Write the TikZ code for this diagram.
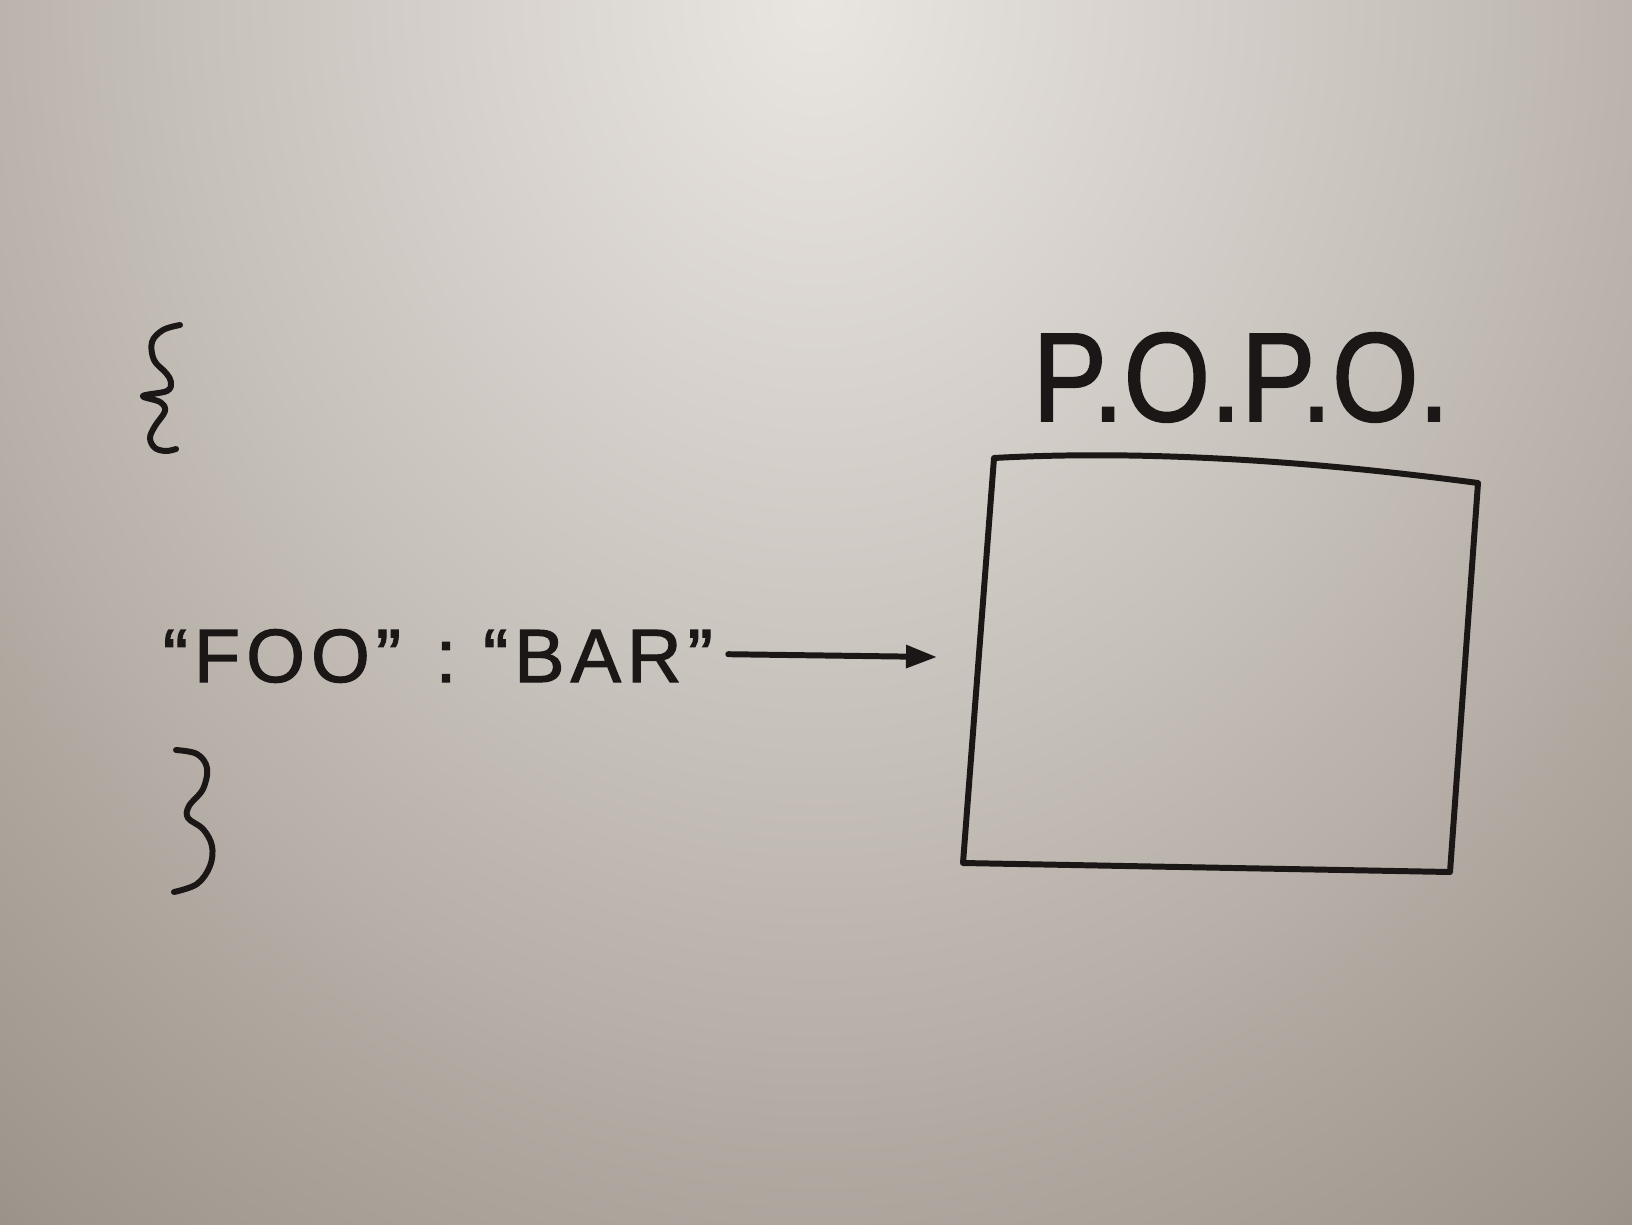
\documentclass[tikz,border=0pt]{standalone}
\usepackage{fontspec}
\usetikzlibrary{arrows.meta}
\newfontfamily\handfont[LetterSpace=8,FakeBold=1.5]{Liberation Sans}
\newfontfamily\titlefont[FakeBold=1.5]{Liberation Sans}
\definecolor{ink}{RGB}{26,23,22}
\definecolor{bgA}{RGB}{233,229,225}
\definecolor{bgB}{RGB}{216,211,206}
\definecolor{bgC}{RGB}{198,192,186}
\definecolor{bgD}{RGB}{178,170,162}
\definecolor{bgE}{RGB}{158,149,140}
\definecolor{bgF}{RGB}{128,119,111}
\pgfdeclareradialshading{board}{\pgfpoint{0bp}{0bp}}{%
  color(0bp)=(bgA); color(5bp)=(bgB); color(10bp)=(bgC); color(15bp)=(bgD);
  color(20bp)=(bgE); color(25bp)=(bgF); color(50bp)=(bgF)}
\tikzset{
  inkline/.style={draw=ink, line width=3.4pt, line cap=round, line join=round},
  arr/.style={inkline, -{Triangle[length=0.62cm,width=0.44cm]}},
  handtext/.style={text=ink, inner sep=0pt, anchor=base, font=\handfont\fontsize{43}{43}\selectfont},
}
\begin{document}
\begin{tikzpicture}[x=0.02cm,y=-0.02cm]
\useasboundingbox (0,0) rectangle (1632,1224);
% background
\begin{scope}
\clip (0,0) rectangle (1632,1224);
\shade[shading=board] (-784,-1900) rectangle (2416,1900);
\end{scope}

% opening brace
\draw[inkline] plot[smooth, tension=0.6] coordinates {(180,325) (163,330) (152,342) (154,360) (166,373) (171,382) (167,391) (143,396) (160,402) (165,411) (155,426) (150,438) (155,448) (166,451) (176,449)};
% closing brace
\draw[inkline] plot[smooth, tension=0.6] coordinates {(176,750) (197,754) (207,768) (203,789) (189,806) (188,818) (203,829) (212,846) (210,866) (197,884) (174,892)};

% text
\node[handtext] (foo) at (282,682) {“FOO”};
\node[handtext] (colon) at (446,682) {:};
\node[handtext] (bar) at (598,682) {“BAR”};

% box
\coordinate (tl) at (994,458);
\coordinate (tr) at (1478,483);
\coordinate (br) at (1450,872);
\coordinate (bl) at (963,863);
\draw[inkline] (tl) .. controls (1100,452) and (1260,454) .. (tr) -- (br) -- (bl) -- cycle;
\coordinate (tip) at (937,657);

% arrow
\draw[arr, shorten <=0.3cm] (bar.east |- 0,654) -- (tip);

% label
\node[text=ink, inner sep=0pt, anchor=base, font=\titlefont\fontsize{72}{72}\selectfont] (popo) at (1241,421) {\scalebox{0.88}[1]{P.O.P.O.}};
\end{tikzpicture}
\end{document}
